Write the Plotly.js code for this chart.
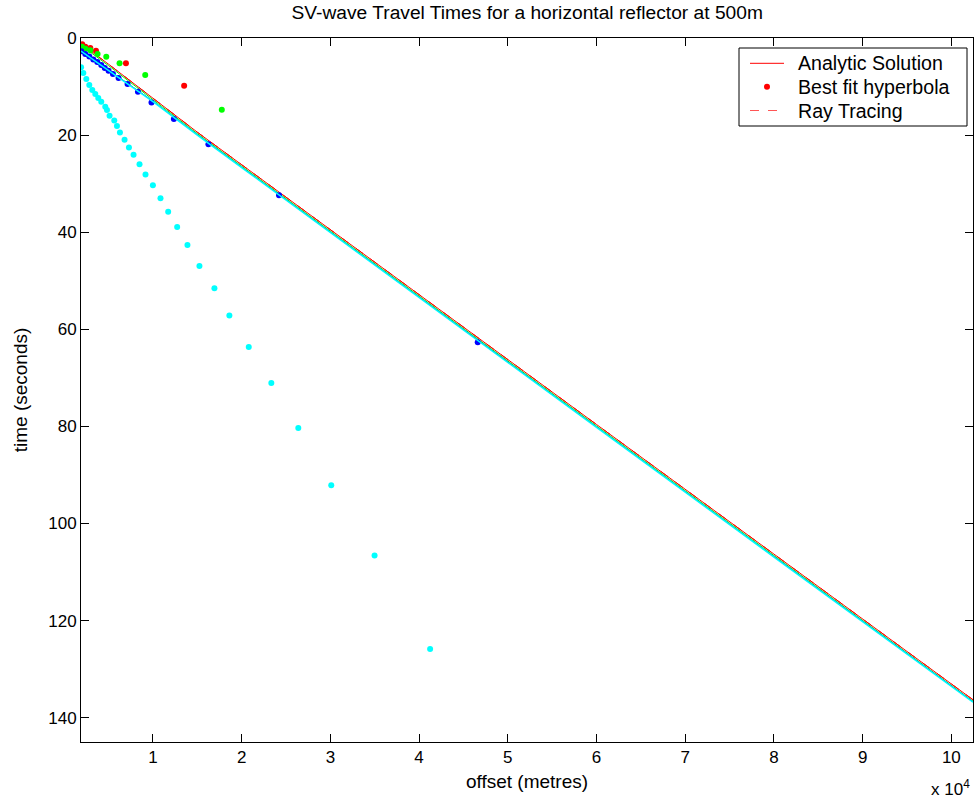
<!DOCTYPE html>
<html>
<head>
<meta charset="utf-8">
<script src="https://cdn.plot.ly/plotly-3.0.1.min.js"></script>
<style>
html,body{margin:0;padding:0;background:#fff;}
#chart{width:974px;height:803px;}
</style>
</head>
<body>
<div id="chart"></div>
<script>
// ---- data (offset in metres, time in seconds) ----
const lineOffsets = [1890, 3000, 5000, 7500, 10000, 15000, 20000, 30000, 45000, 60000, 80000, 102440];
const analyticRed  = [1.4, 2.7, 5.4, 8.9, 12.4, 19.4, 26.1, 39.5, 59.5, 79.6, 106.3, 136.3];
const rayTracing   = [1.4, 2.7, 5.4, 8.9, 12.4, 19.4, 26.1, 39.5, 59.5, 79.6, 106.3, 136.3];
const lineGreen    = [1.8, 3.0, 5.7, 9.2, 12.7, 19.7, 26.4, 39.8, 59.8, 79.9, 106.6, 136.6];
const lineBlue     = [2.6, 4.0, 6.5, 9.8, 13.0, 19.9, 26.6, 40.0, 60.0, 80.1, 106.8, 136.7];
const lineCyan     = [2.7, 4.1, 6.6, 9.9, 13.1, 20.0, 26.7, 40.1, 60.1, 80.2, 106.9, 136.8];

const redDotX   = [2026, 2375, 2938, 3579, 6956, 13518];
const redDotT   = [1.3, 1.79, 2.06, 2.62, 5.22, 9.84];
const greenDotX = [2004, 2400, 2938, 3760, 4739, 6236, 9129, 17762];
const greenDotT = [1.79, 2.2, 2.5, 3.30, 3.86, 5.22, 7.63, 14.78];
const blueDotX  = [1925, 2375, 2825, 3276, 3726, 4176, 4570, 4998, 5493, 6123, 7136, 8307, 9838, 12359, 16254, 24212, 46612];
const blueDotT  = [2.74, 3.30, 3.81, 4.43, 4.95, 5.57, 6.19, 6.74, 7.42, 8.25, 9.48, 11.07, 13.26, 16.70, 21.86, 32.37, 62.68];
const cyanDotX  = [1900, 2150, 2488, 2825, 3163, 3501, 3838, 4176, 4626, 4818, 5110, 5640, 5943, 6281, 6799, 7294, 7812, 8487, 9162, 9995, 10851, 11717, 12730, 13890, 15241, 16929, 18617, 20801, 23345, 26384, 30099, 34984, 41242];
const cyanDotT  = [6.04, 7.22, 8.45, 9.69, 10.72, 11.55, 12.37, 13.13, 14.16, 14.85, 16.02, 16.97, 18.14, 19.44, 20.97, 22.54, 24.06, 25.98, 28.10, 30.31, 32.99, 35.81, 38.91, 42.62, 46.95, 51.55, 57.16, 63.65, 71.07, 80.35, 92.10, 106.60, 125.84];

const xTickVals = [10000, 20000, 30000, 40000, 50000, 60000, 70000, 80000, 90000, 100000];
const xTickText = ['1', '2', '3', '4', '5', '6', '7', '8', '9', '10'];
const yTickVals = [0, 20, 40, 60, 80, 100, 120, 140];
const legendLabels = ['Analytic Solution', 'Best fit hyperbola', 'Ray Tracing'];

const FONT = 'Liberation Sans, Arial, sans-serif';

const traces = [
  {x: lineOffsets, y: analyticRed, mode: 'lines', name: legendLabels[0],
   line: {color: '#ff0000', width: 1}},
  {x: redDotX, y: redDotT, mode: 'markers', name: legendLabels[1],
   marker: {color: '#ff0000', size: 6}},
  {x: lineOffsets, y: rayTracing, mode: 'lines', name: legendLabels[2],
   line: {color: '#ff0000', width: 1, dash: 'dash'}},
  {x: lineOffsets, y: lineGreen, mode: 'lines',
   line: {color: '#00ff00', width: 1}},
  {x: greenDotX, y: greenDotT, mode: 'markers',
   marker: {color: '#00ff00', size: 6}},
  {x: lineOffsets, y: lineBlue, mode: 'lines',
   line: {color: '#0000ff', width: 1}},
  {x: blueDotX, y: blueDotT, mode: 'markers',
   marker: {color: '#0000ff', size: 6}},
  {x: lineOffsets, y: lineCyan, mode: 'lines',
   line: {color: '#00ffff', width: 1.5}},
  {x: cyanDotX, y: cyanDotT, mode: 'markers',
   marker: {color: '#00ffff', size: 6}}
];

// plot-area geometry helpers for the hand-drawn legend box
const L = 81, R = 973, T = 38, B = 742;
const px = v => (v - L) / (R - L);
const py = v => (B - v) / (B - T);

const rows = [63.3, 86.7, 110.5];
const shapes = [
  {type: 'rect', xref: 'paper', yref: 'paper', x0: px(739), x1: px(967), y0: py(126), y1: py(48),
   line: {color: '#000', width: 1}, fillcolor: '#fff', layer: 'above'},
  {type: 'line', xref: 'paper', yref: 'paper', x0: px(750), x1: px(784), y0: py(rows[0]), y1: py(rows[0]),
   line: {color: '#ff0000', width: 1}, layer: 'above'},
  {type: 'circle', xref: 'paper', yref: 'paper', x0: px(764), x1: px(770), y0: py(rows[1] + 3), y1: py(rows[1] - 3),
   line: {color: '#ff0000', width: 0}, fillcolor: '#ff0000', layer: 'above'},
  {type: 'line', xref: 'paper', yref: 'paper', x0: px(750), x1: px(784), y0: py(rows[2]), y1: py(rows[2]),
   line: {color: '#ff5555', width: 1, dash: 'dash'}, layer: 'above'}
];
const annotations = legendLabels.map((t, i) => ({
  text: t, xref: 'paper', yref: 'paper', x: px(796), y: py(rows[i]),
  xanchor: 'left', yanchor: 'middle', showarrow: false,
  font: {family: FONT, size: 19.6, color: '#000'}
}));
annotations.push({text: 'x 10<sup>4</sup>', xref: 'paper', yref: 'paper', x: px(972), y: py(801),
  xanchor: 'right', yanchor: 'bottom', showarrow: false,
  font: {family: FONT, size: 17, color: '#000'}});

const axisCommon = {
  showline: true, linecolor: '#000', linewidth: 1, mirror: 'ticks',
  ticks: 'inside', ticklen: 8, tickcolor: '#000', tickwidth: 1,
  showgrid: false, zeroline: false,
  tickfont: {family: FONT, size: 17, color: '#000'}
};

const layout = {
  width: 974, height: 803,
  margin: {l: 81, r: 1, t: 38, b: 61},
  paper_bgcolor: '#fff', plot_bgcolor: '#fff',
  font: {family: FONT, color: '#000'},
  showlegend: false,
  title: {text: 'SV-wave Travel Times for a horizontal reflector at 500m',
          font: {family: FONT, size: 19.2, color: '#000'},
          x: 0.5413, xanchor: 'center', y: 0.985, yanchor: 'middle'},
  xaxis: Object.assign({}, axisCommon, {
    range: [1890, 102440], tickvals: xTickVals, ticktext: xTickText,
    title: {text: 'offset (metres)', font: {family: FONT, size: 19, color: '#000'}, standoff: 8}
  }),
  yaxis: Object.assign({}, axisCommon, {
    range: [145, 0], tickvals: yTickVals,
    title: {text: 'time (seconds)', font: {family: FONT, size: 19, color: '#000'}, standoff: 15}
  }),
  shapes: shapes,
  annotations: annotations
};

Plotly.newPlot('chart', traces, layout, {displayModeBar: false, staticPlot: true});
</script>
</body>
</html>
